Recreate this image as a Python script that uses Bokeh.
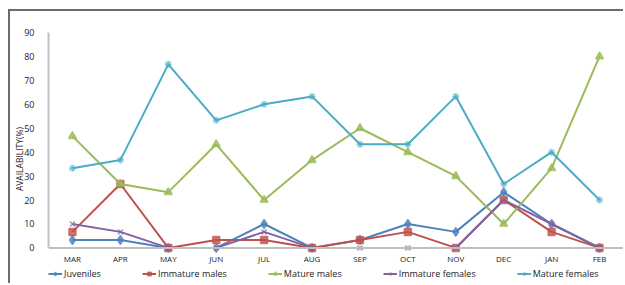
from bokeh.plotting import figure
from bokeh.models import FactorRange, Range1d, FixedTicker, Legend, LegendItem, Span
from bokeh.embed import file_html
from bokeh.resources import INLINE

months = ["MAR", "APR", "MAY", "JUN", "JUL", "AUG", "SEP", "OCT", "NOV", "DEC", "JAN", "FEB"]
juveniles = [3.3, 3.3, 0, 0, 10, 0, 3.3, 10, 6.7, 23.3, 10, 0]
immature_males = [6.7, 26.7, 0, 3.3, 3.3, 0, 3.3, 6.7, 0, 20, 6.7, 0]
mature_males = [46.7, 26.7, 23.3, 43.3, 20, 36.7, 50, 40, 30, 10, 33.3, 80]
immature_females = [10, 6.7, 0, 0, 6.7, 0, 0, 0, 0, 20, 10, 0]
mature_females = [33.3, 36.7, 76.7, 53.3, 60, 63.3, 43.3, 43.3, 63.3, 26.7, 40, 20]
y_ticks = [0, 10, 20, 30, 40, 50, 60, 70, 80, 90]

series = [
    ("Juveniles", juveniles, "#4F81BD", "diamond", 9),
    ("Immature males", immature_males, "#C0504D", "square", 7),
    ("Mature males", mature_males, "#9BBB59", "triangle", 8),
    ("Immature females", immature_females, "#8064A2", "x", 7),
    ("Mature females", mature_females, "#4BACC6", "asterisk", 7),
]

# frame extends below zero so that month labels and legend live inside it
p = figure(x_range=FactorRange(*months), y_range=Range1d(-15.7, 90),
           width=615, height=274, output_backend="svg", toolbar_location=None,
           min_border_left=38, min_border_right=2, min_border_top=21, min_border_bottom=0)
# chart-area border (top and left edges visible in the reference)
p.styles = {"margin-left": "8px", "margin-top": "9px",
            "border-left": "2px solid #6b6b6b", "border-top": "2px solid #6b6b6b"}
p.outline_line_color = None
p.xgrid.grid_line_color = None
p.ygrid.grid_line_color = None
p.xaxis.visible = False

p.yaxis.ticker = FixedTicker(ticks=y_ticks)
p.yaxis.bounds = (0, 90)
p.yaxis.axis_line_color = "#BFBFBF"
p.yaxis.axis_line_width = 2
p.yaxis.major_tick_line_color = None
p.yaxis.minor_tick_line_color = None
p.yaxis.major_label_text_font = "Open Sans"
p.yaxis.major_label_text_font_size = "9px"
p.yaxis.major_label_text_color = "#222222"
p.yaxis.major_label_standoff = 8
p.yaxis.axis_label = "AVAILABILITY(%)"
p.yaxis.axis_label_text_font = "Open Sans"
p.yaxis.axis_label_text_font_size = "8.5px"
p.yaxis.axis_label_text_font_style = "normal"
p.yaxis.axis_label_text_color = "#222222"
p.yaxis.axis_label_standoff = -4

# category axis line at zero and category labels beneath it
p.add_layout(Span(location=0, dimension="width", line_color="#BFBFBF", line_width=2))
p.text(x=months, y=[-4.4] * len(months), text=months, text_align="center",
       text_baseline="middle", text_font_size="8px", text_color="#222222",
       text_font={"value": "Open Sans"})

items = []
for name, vals, color, marker, size in series:
    r1 = p.line(months, vals, line_color=color, line_width=2)
    r2 = p.scatter(months, vals, marker=marker, size=size, fill_color=color,
                   line_color=color, line_width=1.5, fill_alpha=0.8, line_alpha=0.7)
    items.append(LegendItem(label=name, renderers=[r1, r2]))

legend = Legend(items=items, orientation="horizontal", location=(0, 5),
                glyph_width=14, glyph_height=9, label_standoff=2, spacing=41,
                padding=0, margin=0, border_line_color=None, background_fill_alpha=0,
                label_text_font="Open Sans", label_text_font_size="9px",
                label_text_color="#222222", label_height=9)
p.add_layout(legend, "center")

open("out.html", "w").write(file_html(p, INLINE))
